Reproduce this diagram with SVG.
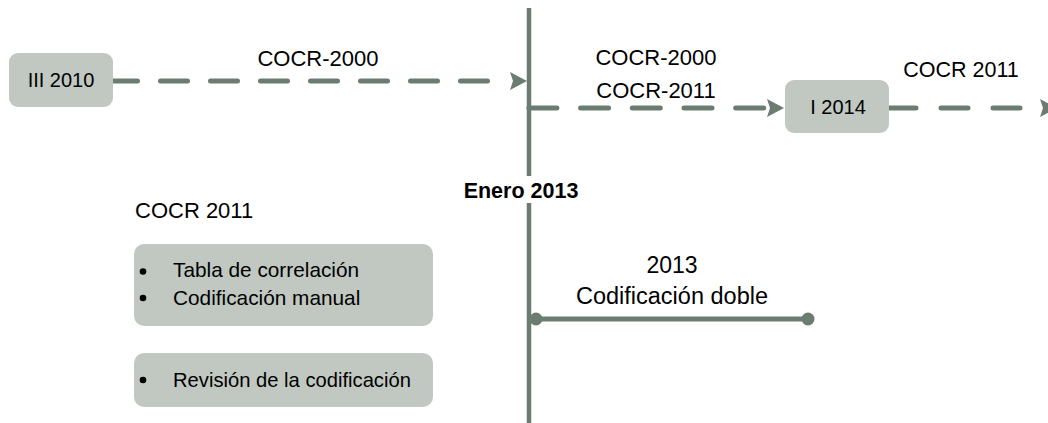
<svg xmlns="http://www.w3.org/2000/svg" width="1048" height="423" viewBox="0 0 1048 423">
<style>
.ln{fill:none;stroke:#6b7c70;stroke-width:5}
.dash{stroke-linecap:round}
.box{fill:#c0c8c1}
.t{font-family:"Liberation Sans",Arial,sans-serif;fill:#000}
.dot{fill:#6b7c70}
</style>
<defs>
<marker id="ah" markerUnits="userSpaceOnUse" viewBox="0 0 17 18" markerWidth="17" markerHeight="18" refX="0" refY="9" orient="auto">
<path d="M0,0 L17,9 L0,18 L3,9 Z" fill="#6b7c70"/>
</marker>
</defs>
<g id="connectors">
<path class="ln" d="M529,8 V176 M529,203 V423" style="stroke-width:4.5"/>
<path class="ln dash" d="M110.5,81 H510" stroke-dasharray="27 23" marker-end="url(#ah)"/>
<path class="ln dash" d="M528.9,108 H767" stroke-dasharray="28 23.7" marker-end="url(#ah)"/>
<path class="ln dash" d="M889,108 H1040" stroke-dasharray="27 25" marker-end="url(#ah)"/>
<path class="ln" d="M536,319 H808"/>
<circle class="dot" cx="536" cy="319" r="6.5"/>
<circle class="dot" cx="808" cy="319" r="6.5"/>
</g>
<g id="node-iii2010">
<rect class="box" x="9" y="53" width="104" height="54" rx="9"/>
<text class="t" x="61" y="87" font-size="20" text-anchor="middle">III 2010</text>
</g>
<g id="node-i2014">
<rect class="box" x="785" y="80" width="104" height="53" rx="9"/>
<text class="t" x="838" y="114" font-size="20" text-anchor="middle">I 2014</text>
</g>
<g id="label-cocr2000-top">
<text class="t" x="318" y="66" font-size="22" text-anchor="middle">COCR-2000</text>
</g>
<g id="label-cocr-right">
<text class="t" x="656" y="65" font-size="22" text-anchor="middle">COCR-2000</text>
<text class="t" x="656" y="98" font-size="22" text-anchor="middle">COCR-2011</text>
</g>
<g id="label-cocr2011-right">
<text class="t" x="961" y="77" font-size="21.5" text-anchor="middle">COCR 2011</text>
</g>
<g id="label-enero">
<text class="t" x="521" y="198" font-size="21.5" font-weight="bold" text-anchor="middle">Enero 2013</text>
</g>
<g id="label-cocr2011-left">
<text class="t" x="135" y="218" font-size="22">COCR 2011</text>
</g>
<g id="node-list1">
<rect class="box" x="134" y="244" width="299" height="82" rx="10"/>
<circle cx="143" cy="271.5" r="3.3" fill="#000"/>
<circle cx="143" cy="298" r="3.3" fill="#000"/>
<text class="t" x="173" y="277" font-size="20.8">Tabla de correlación</text>
<text class="t" x="173" y="305" font-size="20.8">Codificación manual</text>
</g>
<g id="node-list2">
<rect class="box" x="134" y="353" width="299" height="54" rx="10"/>
<circle cx="143" cy="380" r="3.3" fill="#000"/>
<text class="t" x="173" y="387" font-size="20.2">Revisión de la codificación</text>
</g>
<g id="label-2013">
<text class="t" x="672" y="273" font-size="23" text-anchor="middle">2013</text>
<text class="t" x="672" y="304" font-size="23.5" text-anchor="middle">Codificación doble</text>
</g>
</svg>
